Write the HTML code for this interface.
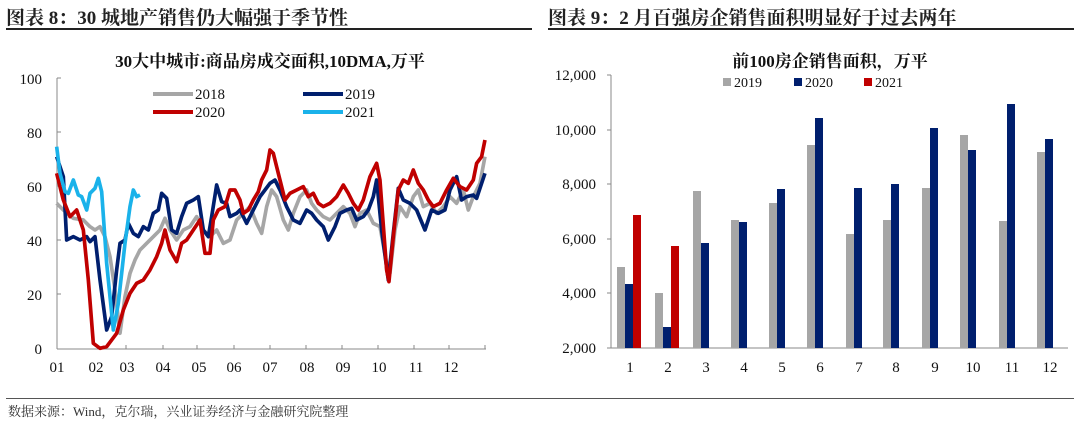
<!DOCTYPE html>
<html><head><meta charset="utf-8"><style>
body{margin:0;width:1080px;height:425px;background:#fff;font-family:"Liberation Serif","Noto Serif CJK SC",serif;overflow:hidden;position:relative}
.t{position:absolute;white-space:nowrap}
</style></head><body>
<div class="t" style="left:6px;top:3px;font-size:19px;font-weight:bold;color:#222">图表 8：30 城地产销售仍大幅强于季节性</div>
<div class="t" style="left:548px;top:3px;font-size:19px;font-weight:bold;color:#222">图表 9：2 月百强房企销售面积明显好于过去两年</div>
<div style="position:absolute;left:6px;top:28px;width:526px;height:2px;background:#222"></div>
<div style="position:absolute;left:548px;top:28px;width:526px;height:2px;background:#222"></div>
<div style="position:absolute;left:6px;top:398px;width:1068px;height:1px;background:#555"></div>
<div class="t" style="left:8px;top:401px;font-size:13px;color:#333">数据来源：Wind，克尔瑞，兴业证券经济与金融研究院整理</div>

<svg width="1080" height="425" style="position:absolute;left:0;top:0" font-family="Liberation Serif,Noto Serif CJK SC,serif">
<text x="270" y="67" font-size="17" font-weight="bold" text-anchor="middle" fill="#111">30大中城市:商品房成交面积,10DMA,万平</text>
<g font-size="15" fill="#111" text-anchor="end">
<text x="42" y="84">100</text><text x="42" y="138">80</text><text x="42" y="192">60</text><text x="42" y="246">40</text><text x="42" y="300">20</text><text x="42" y="354">0</text></g>
<g stroke="#888" stroke-width="1"><line x1="57" y1="78" x2="57" y2="349"/><line x1="57" y1="349" x2="486" y2="349"/>
<line x1="57" y1="78" x2="61" y2="78"/><line x1="57" y1="132" x2="61" y2="132"/><line x1="57" y1="186" x2="61" y2="186"/><line x1="57" y1="240" x2="61" y2="240"/><line x1="57" y1="294" x2="61" y2="294"/>
<path d="M126 349v-4M163 349v-4M197 349v-4M234 349v-4M270 349v-4M306 349v-4M342 349v-4M378 349v-4M414 349v-4M449 349v-4M485 349v-4"/></g>
<g font-size="15" fill="#111" text-anchor="middle">
<text x="57" y="372">01</text><text x="96" y="372">02</text><text x="127" y="372">03</text><text x="163" y="372">04</text><text x="199" y="372">05</text><text x="234" y="372">06</text><text x="270" y="372">07</text><text x="307" y="372">08</text><text x="343" y="372">09</text><text x="379" y="372">10</text><text x="416" y="372">11</text><text x="451" y="372">12</text></g>
<g stroke-width="4"><line x1="153" y1="94" x2="193" y2="94" stroke="#a6a6a6"/><line x1="303" y1="94" x2="343" y2="94" stroke="#001f6e"/><line x1="153" y1="112" x2="193" y2="112" stroke="#c00000"/><line x1="303" y1="112" x2="343" y2="112" stroke="#1ab2ea"/></g>
<g font-size="15" fill="#111"><text x="195" y="99">2018</text><text x="345" y="99">2019</text><text x="195" y="117">2020</text><text x="345" y="117">2021</text></g>
<g transform="translate(40,130) scale(0.3333)" fill="none" stroke-width="11" stroke-linejoin="round">
<polyline stroke="#a6a6a6" points="50,220 70,240 100,265 130,270 150,290 165,300 180,290 195,320 210,380 225,480 240,610 255,500 270,430 285,390 300,360 320,340 340,320 360,300 375,265 390,300 410,330 430,300 450,290 470,260 490,300 510,320 530,300 550,340 570,330 590,270 610,250 630,230 650,280 665,310 680,230 695,180 710,200 730,270 745,300 760,250 780,200 800,180 815,220 830,240 850,260 870,270 890,250 910,230 930,250 945,290 960,250 980,240 1000,280 1020,290 1040,400 1050,430 1065,300 1080,230 1100,260 1120,200 1135,180 1150,230 1170,220 1190,250 1210,230 1230,200 1250,220 1270,180 1285,240 1300,200 1320,160 1335,80"/>
<polyline stroke="#001f6e" points="50,80 70,140 80,330 100,320 120,330 140,320 150,335 165,320 180,450 200,600 215,560 230,420 240,340 255,330 265,280 280,310 295,320 310,290 325,300 340,250 355,240 365,190 380,205 395,300 410,310 425,260 440,220 460,210 475,200 490,300 505,320 515,260 530,165 545,215 560,220 570,260 590,250 600,240 620,280 640,240 660,200 675,180 690,160 705,150 720,180 740,230 760,270 780,280 800,240 815,250 830,270 850,290 865,330 885,290 900,250 920,240 935,235 950,270 970,260 985,240 1000,200 1010,150 1025,300 1045,450 1060,310 1075,175 1090,210 1110,220 1130,240 1155,300 1175,240 1195,250 1215,240 1230,180 1250,140 1265,210 1280,200 1300,195 1310,205 1325,160 1335,130"/>
<polyline stroke="#c00000" points="50,130 70,210 90,260 110,240 130,300 145,450 160,640 180,655 200,650 230,610 250,540 270,490 290,460 310,450 330,420 350,380 365,340 375,300 390,360 410,395 425,340 440,330 460,300 480,270 495,370 510,370 520,270 535,240 555,230 570,180 585,180 600,210 610,250 625,240 640,210 655,185 665,150 680,120 690,60 700,70 710,110 720,150 735,210 750,190 770,180 790,170 805,200 820,190 835,220 850,230 870,220 890,200 910,165 925,190 940,220 955,240 970,210 990,140 1010,100 1020,150 1040,420 1047,455 1060,320 1075,180 1090,150 1105,160 1120,120 1135,160 1150,180 1165,210 1180,230 1200,220 1220,180 1240,145 1260,170 1280,180 1300,150 1310,100 1325,80 1335,30"/>
<polyline stroke="#1ab2ea" points="50,50 60,130 75,185 85,190 100,150 115,195 125,200 140,240 150,190 165,175 175,145 185,185 200,400 220,600 235,520 255,340 270,230 280,180 290,200 300,195"/>
</g>

<text x="830" y="67" font-size="17" font-weight="bold" text-anchor="middle" fill="#111">前100房企销售面积，万平</text>
<g font-size="10" fill="#111"></g>
<rect x="723" y="78" width="8" height="8" fill="#a6a6a6"/><text x="734" y="87" font-size="14" fill="#111">2019</text>
<rect x="794" y="78" width="8" height="8" fill="#001f6e"/><text x="805" y="87" font-size="14" fill="#111">2020</text>
<rect x="864" y="78" width="8" height="8" fill="#c00000"/><text x="875" y="87" font-size="14" fill="#111">2021</text>
<g font-size="15" fill="#111" text-anchor="end">
<text x="596" y="80">12,000</text><text x="596" y="135">10,000</text><text x="596" y="189">8,000</text><text x="596" y="244">6,000</text><text x="596" y="298">4,000</text><text x="596" y="353">2,000</text></g>
<g stroke="#888"><line x1="611" y1="75" x2="611" y2="348"/><line x1="611" y1="348" x2="1068" y2="348"/>
<path d="M607 75h4M607 130h4M607 184h4M607 239h4M607 293h4M607 348h4"/></g>
<g font-size="15" fill="#111" text-anchor="middle">
<text x="630" y="372">1</text><text x="668" y="372">2</text><text x="706" y="372">3</text><text x="744" y="372">4</text><text x="782" y="372">5</text><text x="820" y="372">6</text><text x="859" y="372">7</text><text x="896" y="372">8</text><text x="935" y="372">9</text><text x="973" y="372">10</text><text x="1012" y="372">11</text><text x="1050" y="372">12</text></g>
<g fill="#a6a6a6">
<rect x="617" y="267" width="8" height="81"/><rect x="655" y="293" width="8" height="55"/><rect x="693" y="191" width="8" height="157"/><rect x="731" y="220" width="8" height="128"/><rect x="769" y="203" width="8" height="145"/><rect x="807" y="145" width="8" height="203"/><rect x="846" y="234" width="8" height="114"/><rect x="883" y="220" width="8" height="128"/><rect x="922" y="188" width="8" height="160"/><rect x="960" y="135" width="8" height="213"/><rect x="999" y="221" width="8" height="127"/><rect x="1037" y="152" width="8" height="196"/></g>
<g fill="#001f6e">
<rect x="625" y="284" width="8" height="64"/><rect x="663" y="327" width="8" height="21"/><rect x="701" y="243" width="8" height="105"/><rect x="739" y="222" width="8" height="126"/><rect x="777" y="189" width="8" height="159"/><rect x="815" y="118" width="8" height="230"/><rect x="854" y="188" width="8" height="160"/><rect x="891" y="184" width="8" height="164"/><rect x="930" y="128" width="8" height="220"/><rect x="968" y="150" width="8" height="198"/><rect x="1007" y="104" width="8" height="244"/><rect x="1045" y="139" width="8" height="209"/></g>
<g fill="#c00000"><rect x="633" y="215" width="8" height="133"/><rect x="671" y="246" width="8" height="102"/></g>
</svg>
</body></html>
